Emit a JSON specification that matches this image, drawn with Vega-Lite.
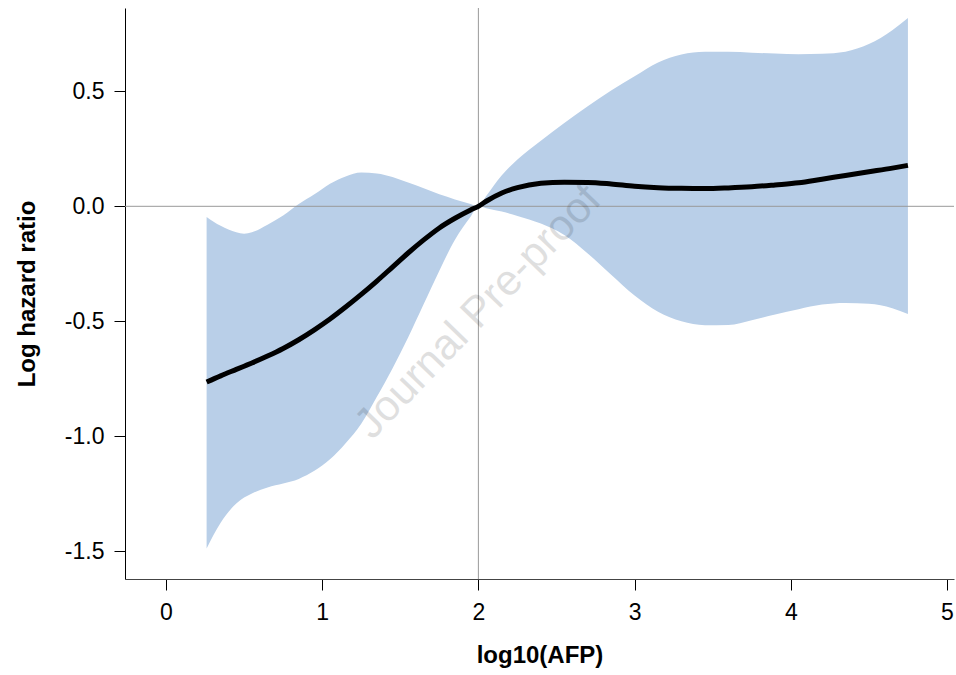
{
  "$schema": "https://vega.github.io/schema/vega-lite/v6.json",
  "width": 829,
  "height": 571,
  "autosize": {"type": "none"},
  "padding": {"left": 125, "top": 8, "right": 2, "bottom": 96},
  "background": "white",
  "config": {
    "view": {"stroke": null},
    "font": "Liberation Sans",
    "axis": {
      "grid": false,
      "labelFont": "Liberation Sans",
      "titleFont": "Liberation Sans",
      "labelFontSize": 23,
      "titleFontSize": 24,
      "titleFontWeight": "bold",
      "labelColor": "#000000",
      "titleColor": "#000000",
      "tickColor": "#000000",
      "domainColor": "#000000",
      "tickSize": 11,
      "tickWidth": 1,
      "domainWidth": 1
    }
  },
  "datasets": {
    "curve": [
      {"x": 0.26, "fit": -0.764, "lo": -1.487, "hi": -0.046},
      {"x": 0.35, "fit": -0.737, "lo": -1.375, "hi": -0.085},
      {"x": 0.45, "fit": -0.709, "lo": -1.292, "hi": -0.113},
      {"x": 0.5, "fit": -0.695, "lo": -1.266, "hi": -0.119},
      {"x": 0.55, "fit": -0.681, "lo": -1.248, "hi": -0.113},
      {"x": 0.65, "fit": -0.651, "lo": -1.222, "hi": -0.08},
      {"x": 0.75, "fit": -0.618, "lo": -1.205, "hi": -0.04},
      {"x": 0.85, "fit": -0.58, "lo": -1.185, "hi": 0.01},
      {"x": 0.95, "fit": -0.537, "lo": -1.15, "hi": 0.052},
      {"x": 1.05, "fit": -0.49, "lo": -1.1, "hi": 0.098},
      {"x": 1.15, "fit": -0.438, "lo": -1.03, "hi": 0.13},
      {"x": 1.25, "fit": -0.383, "lo": -0.945, "hi": 0.147},
      {"x": 1.35, "fit": -0.325, "lo": -0.828, "hi": 0.143},
      {"x": 1.45, "fit": -0.264, "lo": -0.705, "hi": 0.127},
      {"x": 1.55, "fit": -0.203, "lo": -0.57, "hi": 0.103},
      {"x": 1.65, "fit": -0.146, "lo": -0.425, "hi": 0.078},
      {"x": 1.75, "fit": -0.094, "lo": -0.28, "hi": 0.052},
      {"x": 1.85, "fit": -0.052, "lo": -0.145, "hi": 0.03},
      {"x": 1.95, "fit": -0.016, "lo": -0.045, "hi": 0.01},
      {"x": 2.0, "fit": 0.0, "lo": 0.0, "hi": 0.0},
      {"x": 2.05, "fit": 0.022, "lo": -0.008, "hi": 0.045},
      {"x": 2.15, "fit": 0.058, "lo": -0.023, "hi": 0.135},
      {"x": 2.25, "fit": 0.081, "lo": -0.042, "hi": 0.203},
      {"x": 2.4, "fit": 0.1, "lo": -0.075, "hi": 0.285},
      {"x": 2.55, "fit": 0.105, "lo": -0.125, "hi": 0.362},
      {"x": 2.7, "fit": 0.104, "lo": -0.205, "hi": 0.435},
      {"x": 2.85, "fit": 0.097, "lo": -0.297, "hi": 0.503},
      {"x": 3.0, "fit": 0.087, "lo": -0.388, "hi": 0.565},
      {"x": 3.15, "fit": 0.081, "lo": -0.458, "hi": 0.625},
      {"x": 3.3, "fit": 0.078, "lo": -0.5, "hi": 0.66},
      {"x": 3.45, "fit": 0.077, "lo": -0.517, "hi": 0.672},
      {"x": 3.6, "fit": 0.08, "lo": -0.516, "hi": 0.672},
      {"x": 3.75, "fit": 0.085, "lo": -0.495, "hi": 0.668},
      {"x": 3.9, "fit": 0.093, "lo": -0.47, "hi": 0.664},
      {"x": 4.05, "fit": 0.102, "lo": -0.447, "hi": 0.661},
      {"x": 4.2, "fit": 0.118, "lo": -0.427, "hi": 0.663},
      {"x": 4.35, "fit": 0.134, "lo": -0.42, "hi": 0.672},
      {"x": 4.5, "fit": 0.15, "lo": -0.424, "hi": 0.705},
      {"x": 4.65, "fit": 0.166, "lo": -0.443, "hi": 0.765},
      {"x": 4.75, "fit": 0.178, "lo": -0.468, "hi": 0.818}
    ],
    "vref": [{"x": 2}],
    "href": [{"y": 0}],
    "mark": [{"x": 2.0, "y": -0.46, "label": "Journal Pre-proof"}]
  },
  "layer": [
    {
      "data": {"name": "curve"},
      "mark": {"type": "area", "color": "#B9CFE8", "interpolate": "monotone", "opacity": 1},
      "encoding": {
        "x": {
          "field": "x", "type": "quantitative",
          "scale": {"domain": [-0.2625, 5.045], "nice": false, "zero": false},
          "axis": {"title": "log10(AFP)", "values": [0, 1, 2, 3, 4, 5], "format": "d", "labelPadding": 11, "titlePadding": 19, "domainColor": "#444444"}
        },
        "y": {
          "field": "lo", "type": "quantitative",
          "scale": {"domain": [-1.62, 0.862], "nice": false, "zero": false},
          "axis": {
            "title": "Log hazard ratio",
            "values": [-1.5, -1.0, -0.5, 0.0, 0.5],
            "labelExpr": "datum.value < 0 ? '-' + format(-datum.value, '.1f') : format(datum.value, '.1f')",
            "labelPadding": 10,
            "titlePadding": 25
          }
        },
        "y2": {"field": "hi"}
      }
    },
    {
      "data": {"name": "vref"},
      "mark": {"type": "rule", "color": "#999999", "strokeWidth": 1},
      "encoding": {"x": {"field": "x", "type": "quantitative"}}
    },
    {
      "data": {"name": "href"},
      "mark": {"type": "rule", "color": "#999999", "strokeWidth": 1},
      "encoding": {"y": {"field": "y", "type": "quantitative"}}
    },
    {
      "data": {"name": "curve"},
      "mark": {"type": "line", "color": "#000000", "strokeWidth": 5, "interpolate": "monotone"},
      "encoding": {
        "x": {"field": "x", "type": "quantitative"},
        "y": {"field": "fit", "type": "quantitative"}
      }
    },
    {
      "data": {"name": "mark"},
      "mark": {"type": "text", "font": "Liberation Sans", "fontSize": 43, "angle": -46, "color": "#000000", "opacity": 0.12, "align": "center", "baseline": "middle"},
      "encoding": {
        "x": {"field": "x", "type": "quantitative"},
        "y": {"field": "y", "type": "quantitative"},
        "text": {"field": "label"}
      }
    }
  ]
}
